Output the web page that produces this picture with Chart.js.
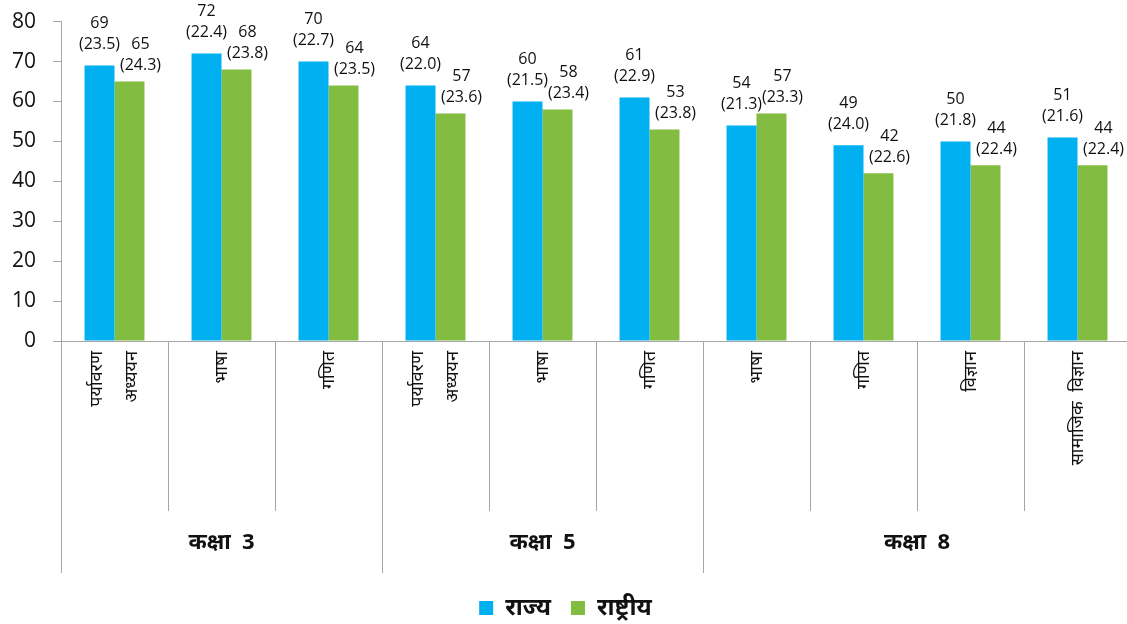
<!DOCTYPE html>
<html>
<head>
<meta charset="utf-8">
<script src="https://cdn.jsdelivr.net/npm/chart.js@4.4.0/dist/chart.umd.min.js"></script>
<style>
  html, body { margin: 0; padding: 0; overflow: hidden; background: #fff; }
  #wrap { width: 1132px; height: 638px; margin-top: -8px; }
</style>
</head>
<body>
<div id="wrap"><canvas id="chart"></canvas></div>
<script>
// subjects (x axis categories), grouped by class
const subjects = [
  ['पर्यावरण', 'अध्ययन'], 'भाषा', 'गणित',
  ['पर्यावरण', 'अध्ययन'], 'भाषा', 'गणित',
  'भाषा', 'गणित', 'विज्ञान', 'सामाजिक  विज्ञान'
];
const groupLabels = ['कक्षा  3', 'कक्षा  5', 'कक्षा  8'];
const groupSizes = [3, 3, 4];

// mean scores and standard deviations
const stateScores = [69, 72, 70, 64, 60, 61, 54, 49, 50, 51];
const stateSD = ['23.5', '22.4', '22.7', '22.0', '21.5', '22.9', '21.3', '24.0', '21.8', '21.6'];
const nationalScores = [65, 68, 64, 57, 58, 53, 57, 42, 44, 44];
const nationalSD = ['24.3', '23.8', '23.5', '23.6', '23.4', '23.8', '23.3', '22.6', '22.4', '22.4'];

const seriesNames = ['राज्य', 'राष्ट्रीय'];
const yTicks = [0, 10, 20, 30, 40, 50, 60, 70, 80];

const FONT = "'Open Sans', 'Noto Sans', 'Noto Sans Devanagari', sans-serif";
const GREY = '#a6a6a6';
const HALF_GAP = 17.5; // half the spacing of two-line rotated labels

// value + (sd) above each bar; the second series' labels sit a little right and lower
const barLabels = {
  id: 'barLabels',
  afterDatasetsDraw(chart) {
    const ctx = chart.ctx;
    const sds = [stateSD, nationalSD];
    const dx = [0, 11];
    const dy = [0, 5];
    ctx.save();
    ctx.font = '16px ' + FONT;
    ctx.fillStyle = '#111';
    ctx.textAlign = 'center';
    ctx.textBaseline = 'middle';
    chart.data.datasets.forEach((ds, d) => {
      chart.getDatasetMeta(d).data.forEach((bar, i) => {
        const x = bar.x + dx[d];
        ctx.fillText(String(ds.data[i]), x, bar.y - 42 + dy[d]);
        ctx.fillText('(' + sds[d][i] + ')', x, bar.y - 21 + dy[d]);
      });
    });
    ctx.restore();
  }
};

// separators under the x axis and class labels
const groupAxis = {
  id: 'groupAxis',
  afterDraw(chart) {
    const ctx = chart.ctx;
    const xs = chart.scales.x;
    const bottom = chart.chartArea.bottom;
    const n = subjects.length;
    const edge = i => {
      if (i === 0) return xs.left;
      if (i === n) return xs.right;
      return (xs.getPixelForValue(i - 1) + xs.getPixelForValue(i)) / 2;
    };
    const groupStarts = [0];
    groupSizes.forEach(s => groupStarts.push(groupStarts[groupStarts.length - 1] + s));

    ctx.save();
    ctx.strokeStyle = GREY;
    ctx.lineWidth = 1;
    for (let i = 0; i <= n; i++) {
      const x = Math.round(edge(i)) + 0.5;
      const len = groupStarts.includes(i) ? 232 : 170;
      ctx.beginPath();
      ctx.moveTo(x, bottom);
      ctx.lineTo(x, bottom + len);
      ctx.stroke();
    }
    ctx.font = 'bold 22px ' + FONT;
    ctx.fillStyle = '#111';
    ctx.textAlign = 'center';
    ctx.textBaseline = 'middle';
    groupLabels.forEach((g, k) => {
      const cx = (edge(groupStarts[k]) + edge(groupStarts[k + 1])) / 2;
      ctx.fillText(g, cx, bottom + 202);
    });
    ctx.restore();
  }
};

new Chart(document.getElementById('chart'), {
  type: 'bar',
  data: {
    labels: subjects,
    datasets: [
      { label: seriesNames[0], data: stateScores, backgroundColor: '#00b0f0' },
      { label: seriesNames[1], data: nationalScores, backgroundColor: '#82bc40' }
    ]
  },
  options: {
    responsive: true,
    maintainAspectRatio: false,
    animation: false,
    categoryPercentage: 0.56,
    barPercentage: 1.0,
    layout: { padding: { top: 14, right: 1, left: 0, bottom: 0 } },
    plugins: {
      tooltip: { enabled: false },
      legend: {
        position: 'bottom',
        labels: {
          boxWidth: 14,
          boxHeight: 14,
          padding: 20,
          color: '#111',
          font: { family: FONT, size: 24, weight: 'bold', lineHeight: 1 }
        }
      }
    },
    scales: {
      x: {
        grid: { display: false, drawTicks: false },
        border: { display: true, color: GREY },
        ticks: {
          maxRotation: 90,
          minRotation: 90,
          autoSkip: false,
          padding: 10,
          labelOffset: -HALF_GAP,
          color: '#111',
          font: { family: FONT, size: 18, lineHeight: HALF_GAP / 18 },
          // spread two-line labels either side of the category centre
          callback(value, index) {
            const s = subjects[index];
            return Array.isArray(s) ? [s[0], '', s[1]] : ['', s];
          }
        },
        afterFit(scale) { scale.height = 235; }
      },
      y: {
        min: 0,
        max: 80,
        afterBuildTicks(scale) { scale.ticks = yTicks.map(v => ({ value: v })); },
        grid: { drawOnChartArea: false, tickLength: 8, color: GREY },
        border: { display: true, color: GREY },
        ticks: {
          padding: 17,
          color: '#111',
          font: { family: FONT, size: 21 }
        },
        afterFit(scale) { scale.width = 61; }
      }
    }
  },
  plugins: [barLabels, groupAxis]
});
</script>
</body>
</html>
